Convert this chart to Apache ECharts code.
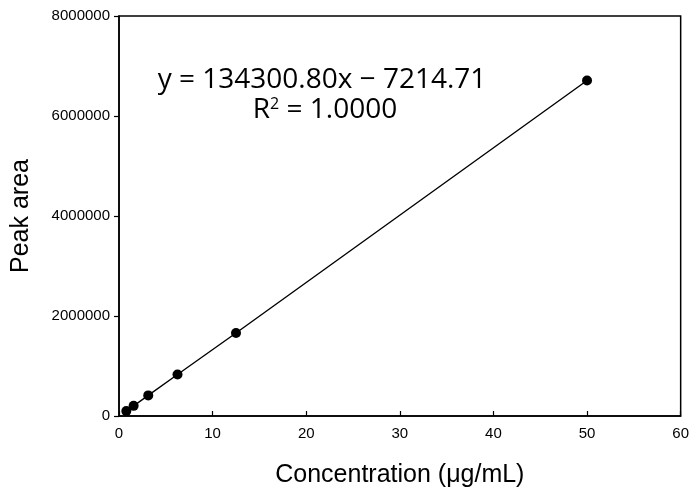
<!DOCTYPE html>
<html>
<head>
<meta charset="utf-8">
<script src="https://cdn.jsdelivr.net/npm/echarts@6/dist/echarts.min.js"></script>
<style>
  html, body { margin: 0; padding: 0; background: #fff; }
  #main { width: 692px; height: 493px; }
</style>
</head>
<body>
<div id="main"></div>
<script>
// concentrations (ug/mL) and peak areas
var concentrations = [0.78125, 1.5625, 3.125, 6.25, 12.5, 50];
var peakAreas = [98000, 203000, 412000, 830000, 1660000, 6710000];
var xTicks = { min: 0, max: 60, step: 10 };
var yTicks = { min: 0, max: 8000000, step: 2000000 };
var equation = 'y = 134300.80x \u2212 7214.71';
var rSquared = '1.0000';

var chart = echarts.init(document.getElementById('main'));

var points = concentrations.map(function (c, i) { return [c, peakAreas[i]]; });

var option = {
    animation: false,
    backgroundColor: '#fff',
    grid: {
        left: 119, right: 10, top: 16, bottom: 72,
        show: true,
        borderColor: '#000',
        borderWidth: 1.5
    },
    xAxis: {
        type: 'value',
        min: xTicks.min, max: xTicks.max, interval: xTicks.step,
        name: 'Concentration (\u03bcg/mL)',
        nameLocation: 'middle',
        nameGap: 47,
        nameTextStyle: { fontFamily: 'Liberation Sans', fontSize: 25, color: '#000' },
        axisLine: { lineStyle: { color: '#000', width: 1.5 } },
        axisTick: { inside: true, length: 5, lineStyle: { color: '#000', width: 1.2 } },
        axisLabel: { fontFamily: 'Liberation Sans', fontSize: 15, color: '#000', margin: 10 },
        splitLine: { show: false }
    },
    yAxis: {
        type: 'value',
        min: yTicks.min, max: yTicks.max, interval: yTicks.step,
        name: 'Peak area',
        nameLocation: 'middle',
        nameGap: 85,
        nameTextStyle: { fontFamily: 'Liberation Sans', fontSize: 25, color: '#000' },
        axisLine: { lineStyle: { color: '#000', width: 1.5 } },
        axisTick: { inside: false, length: 5, lineStyle: { color: '#000', width: 1.2 } },
        axisLabel: {
            fontFamily: 'Liberation Sans', fontSize: 15, color: '#000', margin: 9,
            formatter: function (v) { return String(v); }
        },
        splitLine: { show: false }
    },
    series: [{
        type: 'line',
        data: points,
        symbol: 'circle',
        symbolSize: 10,
        itemStyle: { color: '#000' },
        lineStyle: { color: '#000', width: 1.4 }
    }],
    graphic: [
        {
            type: 'text', x: 322, y: 80,
            style: {
                text: equation,
                font: '28px "Open Sans"', fill: '#000',
                align: 'center', verticalAlign: 'middle'
            }
        },
        {
            type: 'text', x: 325, y: 110,
            style: {
                text: 'R{sup|2} = ' + rSquared,
                font: '28px "Open Sans"', fill: '#000',
                align: 'center', verticalAlign: 'middle',
                rich: {
                    sup: { fontFamily: 'Open Sans', fontSize: 16, verticalAlign: 'top', padding: [0, 0, 12, 0] }
                }
            }
        }
    ]
};

chart.setOption(option);
</script>
</body>
</html>
